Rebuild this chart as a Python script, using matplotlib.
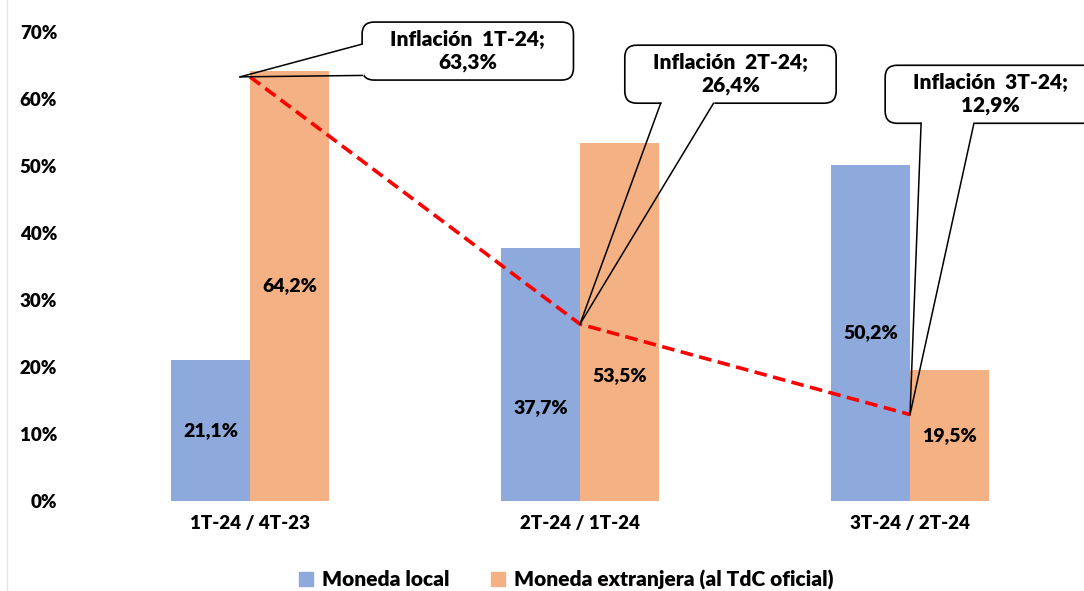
import matplotlib
matplotlib.use("Agg")

import matplotlib.pyplot as plt
from matplotlib.patches import FancyBboxPatch, Patch
import numpy as np

plt.rcParams["font.family"] = ["Lato", "DejaVu Sans"]
PESO = "heavy"
plt.rcParams["font.weight"] = PESO

# ── datos ──────────────────────────────────────────────────────────────
categorias = ["1T-24 / 4T-23", "2T-24 / 1T-24", "3T-24 / 2T-24"]
moneda_local = [21.1, 37.7, 50.2]
moneda_extranjera = [64.2, 53.5, 19.5]
inflacion = [63.3, 26.4, 12.9]
inflacion_etiquetas = ["1T-24", "2T-24", "3T-24"]
yticks = [0, 10, 20, 30, 40, 50, 60, 70]

AZUL = "#8EA9DB"
NARANJA = "#F4B183"

fig = plt.figure(figsize=(10.84, 5.91), dpi=100)
ax = fig.add_axes([0.0784, 0.1523, 0.9133, 0.7936])

x = np.arange(len(categorias))
w = 0.24
ax.bar(x - w / 2, moneda_local, w, color=AZUL, zorder=2)
ax.bar(x + w / 2, moneda_extranjera, w, color=NARANJA, zorder=2)

ax.set_xlim(-0.5, 2.5)
ax.set_ylim(0, 70)
ax.set_yticks(yticks)
ax.set_yticklabels([f"{t}%" for t in yticks], fontsize=13.5, fontweight=PESO)
ax.set_xticks(x)
ax.set_xticklabels(categorias, fontsize=13.5, fontweight=PESO)
ax.tick_params(length=0, pad=10)
ax.tick_params(axis="y", pad=20)
for s in ax.spines.values():
    s.set_visible(False)

# etiquetas de barras (centradas, salvo el segundo grupo que se desplaza)
pos_local = [v / 2 for v in moneda_local]
pos_ext = [v / 2 for v in moneda_extranjera]
pos_local[1] = 14.0
pos_ext[1] = 18.7
for i in range(len(x)):
    ax.text(x[i] - w / 2, pos_local[i], f"{moneda_local[i]:.1f}%".replace(".", ","),
            ha="center", va="center", fontsize=14, fontweight=PESO, zorder=4)
    ax.text(x[i] + w / 2, pos_ext[i], f"{moneda_extranjera[i]:.1f}%".replace(".", ","),
            ha="center", va="center", fontsize=14, fontweight=PESO, zorder=4)

# línea de inflación
ax.plot(x, inflacion, color="#FF0000", linestyle=(0, (3.5, 1.8)), linewidth=2.6, zorder=3)

# ── llamadas (callouts) ────────────────────────────────────────────────
px = 1 / 331.0          # unidades x por pixel
py = 70 / 469.0         # unidades y por pixel
box_w = 212 * px
box_h = 58 * py
centros = [(0.66, 67.15), (1.456, 63.7), (2.245, 60.7)]
# raíces del puntero relativas a la caja (fracciones): lado y posiciones
raices = [("left", 0.38, 0.08), ("bottom", 0.17, 0.42), ("bottom", 0.17, 0.42)]

for i in range(len(x)):
    cx, cy = centros[i]
    x0, y0 = cx - box_w / 2, cy - box_h / 2
    caja = FancyBboxPatch((x0, y0), box_w, box_h,
                          boxstyle=f"round,pad=0,rounding_size={12 * px}",
                          mutation_aspect=py / px,
                          fc="white", ec="black", lw=1.2, zorder=5, clip_on=False)
    ax.add_patch(caja)
    lado, a, b = raices[i]
    if lado == "left":
        r1 = (x0, y0 + box_h * (1 - a))
        r2 = (x0, y0 + box_h * b)
    else:
        r1 = (x0 + box_w * a, y0)
        r2 = (x0 + box_w * b, y0)
    ax.plot([r1[0], r2[0]], [r1[1], r2[1]], color="white", lw=2.2, zorder=6,
            clip_on=False, solid_capstyle="butt")
    for r in (r1, r2):
        ax.plot([x[i] - (0.03 if i == 0 else 0), r[0]], [inflacion[i], r[1]],
                color="black", lw=1.1, zorder=6, clip_on=False)
    ax.text(cx, cy, f"Inflación  {inflacion_etiquetas[i]};\n{inflacion[i]:.1f}%".replace(".", ","),
            ha="center", va="center", fontsize=15, fontweight=PESO,
            linespacing=1.2, zorder=7, clip_on=False)

# leyenda
handles = [Patch(color=AZUL, label="Moneda local"),
           Patch(color=NARANJA, label="Moneda extranjera (al TdC oficial)")]
fig.legend(handles=handles, loc="lower center", bbox_to_anchor=(0.522, -0.03), ncol=2,
           frameon=False, prop={"size": 15, "weight": PESO},
           handlelength=0.7, handleheight=0.7, handletextpad=0.4, columnspacing=2.0)

fig.add_artist(plt.Line2D([0.0065, 0.0065], [0, 1], color="#E6E6E6", lw=1))

fig.savefig("out.png", dpi=100)
